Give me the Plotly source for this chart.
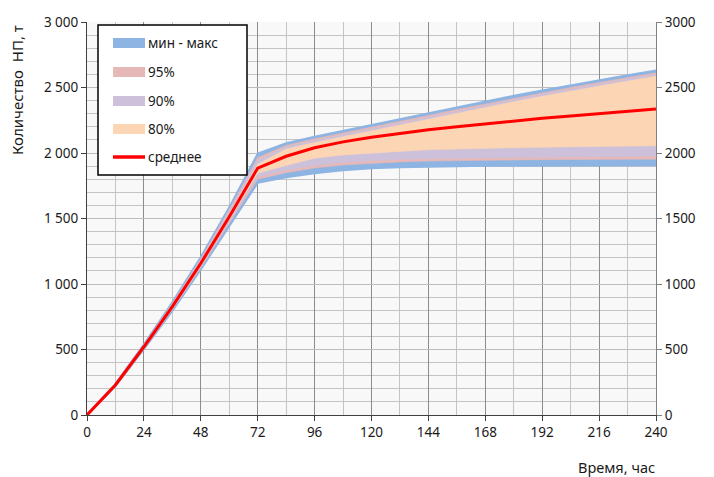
import plotly.graph_objects as go

hours = [0, 12, 24, 36, 48, 60, 72, 84, 96, 108, 120, 132, 144, 156, 168, 180, 192, 204, 216, 228, 240]

mean_vals = [0, 229, 521, 827, 1158, 1514, 1885, 1975, 2040, 2085, 2120, 2150, 2177, 2200, 2222, 2245, 2265, 2283, 2300, 2318, 2336]

max_vals = [0, 238, 540, 860, 1205, 1585, 1995, 2075, 2125, 2170, 2212, 2258, 2305, 2350, 2393, 2437, 2478, 2518, 2557, 2594, 2630]
min_vals = [0, 220, 502, 794, 1111, 1443, 1772, 1815, 1845, 1868, 1883, 1892, 1897, 1900, 1902, 1903, 1904, 1905, 1905, 1906, 1906]

p975_vals = [0, 236, 536, 852, 1193, 1569, 1965, 2058, 2108, 2152, 2194, 2240, 2287, 2332, 2375, 2419, 2460, 2500, 2539, 2576, 2612]
p025_vals = [0, 222, 506, 803, 1124, 1463, 1800, 1850, 1885, 1908, 1922, 1932, 1938, 1942, 1945, 1947, 1949, 1950, 1951, 1952, 1953]

p95_vals = [0, 234, 533, 847, 1185, 1556, 1945, 2045, 2095, 2140, 2182, 2228, 2275, 2320, 2363, 2407, 2448, 2488, 2527, 2564, 2600]
p05_vals = [0, 224, 509, 808, 1131, 1475, 1820, 1868, 1905, 1930, 1943, 1952, 1957, 1961, 1964, 1966, 1968, 1971, 1973, 1975, 1977]

p90_vals = [0, 232, 528, 838, 1172, 1534, 1915, 2030, 2080, 2125, 2167, 2213, 2260, 2305, 2348, 2392, 2433, 2473, 2512, 2549, 2585]
p10_vals = [0, 226, 514, 816, 1144, 1494, 1845, 1905, 1960, 1985, 2000, 2012, 2024, 2031, 2036, 2040, 2043, 2046, 2050, 2053, 2056]

y_ticks = [0, 500, 1000, 1500, 2000, 2500, 3000]
y_left_labels = ["0", "500", "1 000", "1 500", "2 000", "2 500", "3 000"]
y_right_labels = ["0", "500", "1000", "1500", "2000", "2500", "3000"]
x_ticks = [0, 24, 48, 72, 96, 120, 144, 168, 192, 216, 240]

band_names = ["мин - макс", "95%", "90%", "80%"]
band_colors = ["#8DB4E2", "#E6B9B8", "#CCC0DA", "#FCD5B4"]
band_lower = [min_vals, p025_vals, p05_vals, p10_vals]
band_upper = [max_vals, p975_vals, p95_vals, p90_vals]
mean_name = "среднее"
mean_color = "#FF0000"

FONT = "Noto Sans"
TXT = "#1a1a1a"

W, H = 714, 477
ML, MR, MT, MB = 87, 58, 22, 62
PW, PH = W - ML - MR, H - MT - MB


def px_x(px):
    return (px - ML) / PW


def px_y(py):
    return (H - MB - py) / PH


fig = go.Figure()

for i, (name, col, lo, hi) in enumerate(zip(band_names, band_colors, band_lower, band_upper)):
    lw = 2 if i == 0 else 0.5
    fig.add_trace(go.Scatter(
        x=hours, y=lo, mode="lines", line=dict(color=col, width=lw),
        showlegend=False, hoverinfo="skip"))
    fig.add_trace(go.Scatter(
        x=hours, y=hi, mode="lines", line=dict(color=col, width=lw),
        fill="tonexty", fillcolor=col, name=name, showlegend=False))

fig.add_trace(go.Scatter(
    x=hours, y=mean_vals, mode="lines", line=dict(color=mean_color, width=3),
    name=mean_name, showlegend=False))

# invisible trace for right axis
fig.add_trace(go.Scatter(x=[0, 240], y=[0, 3000], yaxis="y2", mode="lines",
                         line=dict(width=0), showlegend=False, hoverinfo="skip", opacity=0))

# manual legend
shapes = [dict(type="rect", xref="paper", yref="paper",
               x0=px_x(98), x1=px_x(247), y0=px_y(175), y1=px_y(25),
               fillcolor="white", line=dict(color="#000000", width=1.5), layer="above")]
annotations = []
leg_y = [43, 72, 101, 129, 157]
for name, col, cy in zip(band_names, band_colors, leg_y[:4]):
    shapes.append(dict(type="rect", xref="paper", yref="paper",
                       x0=px_x(113), x1=px_x(145), y0=px_y(cy + 5), y1=px_y(cy - 5),
                       fillcolor=col, line=dict(width=0), layer="above"))
    annotations.append(dict(text=name, xref="paper", yref="paper", x=px_x(146), y=px_y(cy),
                            xanchor="left", yanchor="middle", showarrow=False,
                            font=dict(family=FONT, size=13.5, color=TXT)))
shapes.append(dict(type="line", xref="paper", yref="paper",
                   x0=px_x(113), x1=px_x(145), y0=px_y(leg_y[4]), y1=px_y(leg_y[4]),
                   line=dict(color=mean_color, width=3.5), layer="above"))
annotations.append(dict(text=mean_name, xref="paper", yref="paper", x=px_x(146), y=px_y(leg_y[4]),
                        xanchor="left", yanchor="middle", showarrow=False,
                        font=dict(family=FONT, size=13.5, color=TXT)))

annotations += [
    dict(text="Время, час", xref="paper", yref="paper", x=px_x(657), y=px_y(467),
         xanchor="right", yanchor="middle", showarrow=False,
         font=dict(family=FONT, size=14.5, color=TXT)),
    dict(text="Количество\u00a0\u00a0НП, т", xref="paper", yref="paper", x=px_x(17), y=px_y(90),
         xanchor="center", yanchor="middle", textangle=-90, showarrow=False,
         font=dict(family=FONT, size=15, color=TXT)),
]

fig.update_layout(
    width=W, height=H,
    margin=dict(l=ML, r=MR, t=MT, b=MB),
    paper_bgcolor="white",
    plot_bgcolor="#f8f8f8",
    font=dict(family=FONT, size=13.5, color=TXT),
    showlegend=False,
    hovermode=False,
    xaxis=dict(
        range=[0, 240], tickvals=x_ticks, ticks="outside", ticklen=5,
        tickcolor="#404040", showline=True, linecolor="#404040", linewidth=1,
        showgrid=True, gridcolor="#8c8c8c", gridwidth=1, zeroline=False,
        minor=dict(dtick=12, tick0=0, showgrid=True, gridcolor="#c4c4c4", gridwidth=1),
        tickfont=dict(family=FONT, size=13.5, color=TXT),
    ),
    yaxis=dict(
        range=[0, 3000], tickvals=y_ticks, ticktext=y_left_labels,
        ticks="outside", ticklen=5, tickcolor="#404040",
        showline=True, linecolor="#404040", linewidth=1,
        showgrid=True, gridcolor="#bdbdbd", gridwidth=1, zeroline=False,
        minor=dict(dtick=100, tick0=0, showgrid=True, gridcolor="#c4c4c4", gridwidth=1),
        tickfont=dict(family=FONT, size=13.5, color=TXT),
    ),
    yaxis2=dict(
        range=[0, 3000], tickvals=y_ticks, ticktext=y_right_labels,
        overlaying="y", side="right", ticks="outside", ticklen=5, tickcolor="#808080",
        showline=True, linecolor="#808080", linewidth=1, showgrid=False, zeroline=False,
        tickfont=dict(family=FONT, size=13.5, color=TXT),
    ),
    shapes=shapes,
    annotations=annotations,
)

fig.write_html("out.html", config={"displayModeBar": False, "staticPlot": True},
               post_script="document.body.style.margin='0';document.body.style.overflow='hidden';")
